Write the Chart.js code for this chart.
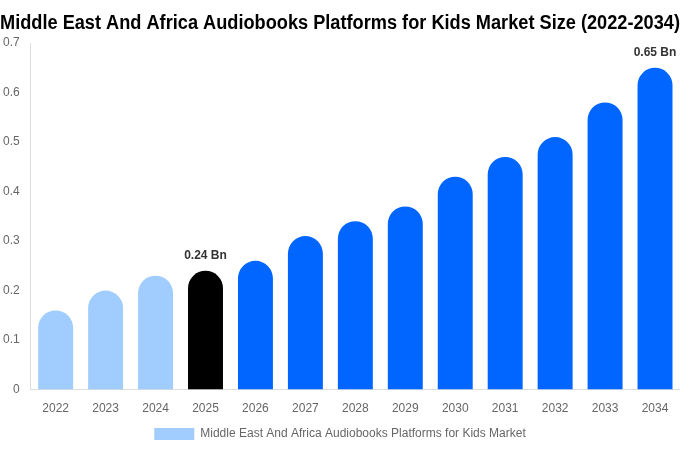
<!DOCTYPE html>
<html>
<head>
<meta charset="utf-8">
<script src="https://cdn.jsdelivr.net/npm/chart.js@4.4.1/dist/chart.umd.min.js"></script>
<style>
  html, body { margin: 0; padding: 0; background: #fff; }
  #wrap { width: 680px; height: 450px; }
</style>
</head>
<body>
<div id="wrap"><canvas id="chart"></canvas></div>
<script>
const years = ['2022', '2023', '2024', '2025', '2026', '2027', '2028', '2029', '2030', '2031', '2032', '2033', '2034'];
const marketSize = [0.16, 0.2, 0.23, 0.24, 0.26, 0.31, 0.34, 0.37, 0.43, 0.47, 0.51, 0.58, 0.65];
const barColors = ['#a0cdfd', '#a0cdfd', '#a0cdfd', '#000000', '#0066ff', '#0066ff', '#0066ff', '#0066ff', '#0066ff', '#0066ff', '#0066ff', '#0066ff', '#0066ff'];
const labelled = { 3: '0.24 Bn', 12: '0.65 Bn' };

// value labels above the 2025 and 2034 bars
const valueLabels = {
    id: 'valueLabels',
    afterDatasetsDraw(chart) {
        const ctx = chart.ctx;
        const meta = chart.getDatasetMeta(0);
        ctx.save();
        ctx.font = 'bold 12px "Liberation Sans", Arial, sans-serif';
        ctx.fillStyle = '#333';
        ctx.textAlign = 'center';
        ctx.textBaseline = 'bottom';
        Object.keys(labelled).forEach(i => {
            const bar = meta.data[i];
            ctx.fillText(labelled[i], bar.x, bar.y - 9);
        });
        ctx.restore();
    }
};

new Chart(document.getElementById('chart'), {
    type: 'bar',
    data: {
        labels: years,
        datasets: [{
            label: 'Middle East And Africa Audiobooks Platforms for Kids Market',
            data: marketSize,
            backgroundColor: barColors,
            borderRadius: { topLeft: 20, topRight: 20 },
            borderSkipped: 'bottom',
            categoryPercentage: 1,
            barPercentage: 0.7
        }]
    },
    options: {
        responsive: true,
        maintainAspectRatio: false,
        animation: false,
        layout: { padding: { left: 0, right: 0, bottom: 0 } },
        plugins: {
            title: {
                display: true,
                text: 'Middle East And Africa Audiobooks Platforms for Kids Market Size (2022-2034)',
                color: '#000',
                font: { family: '"Liberation Sans", Arial, sans-serif', size: 20, weight: 'bold' },
                padding: { top: 11, bottom: 8 }
            },
            legend: {
                position: 'bottom',
                labels: {
                    boxWidth: 40,
                    boxHeight: 12,
                    padding: 4,
                    color: '#666',
                    font: { family: '"Liberation Sans", Arial, sans-serif', size: 12 }
                }
            },
            tooltip: { enabled: false }
        },
        scales: {
            x: {
                grid: { display: false },
                border: { display: true, color: '#ddd' },
                ticks: { color: '#666', padding: 4, font: { family: '"Liberation Sans", Arial, sans-serif', size: 12 } },
                afterFit(scale) { scale.height += 4; }
            },
            y: {
                min: 0,
                max: 0.7,
                grid: { display: false },
                border: { display: true, color: '#ddd' },
                ticks: { stepSize: 0.1, color: '#666', padding: 3, font: { family: '"Liberation Sans", Arial, sans-serif', size: 12 } }
            }
        }
    },
    plugins: [valueLabels]
});
</script>
</body>
</html>
